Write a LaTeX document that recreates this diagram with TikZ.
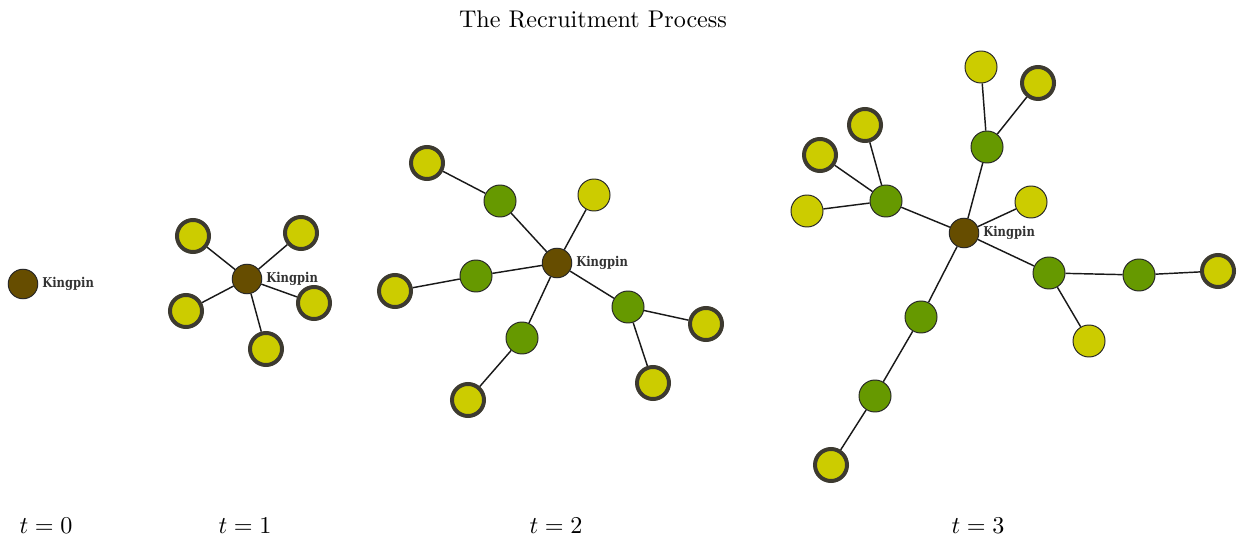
\documentclass[tikz,border=0pt]{standalone}
\usepackage{fontspec}
\usepackage{amsmath}
\newfontfamily\kingfont[FakeStretch=0.85]{DejaVu Serif}
\definecolor{kpbrown}{HTML}{664D00}
\definecolor{kpgreen}{HTML}{669900}
\definecolor{kpyellow}{HTML}{CCCC00}
\definecolor{kpring}{HTML}{3D3A30}

\begin{document}
\begin{tikzpicture}[
		x=0.01455cm, y=-0.01455cm,
		every node/.style={circle, draw=black!85, minimum size=0.466cm, inner sep=0pt, line width=0.4pt},
		every label/.append style={rectangle, draw=none, fill=none, minimum size=0pt, inner sep=1.5pt,
			font=\kingfont\bfseries\fontsize{5.6}{7}\selectfont, text=black!80},
		kingpin/.style={fill=kpbrown, minimum size=0.43cm, label=right:Kingpin},
		soldier/.style={fill=kpgreen},
		recruit/.style={fill=kpyellow, draw=kpring, line width=1.65pt},
		prospect/.style={fill=kpyellow},
		caption/.style={rectangle, draw=none, minimum size=0pt, inner sep=0pt},
		every edge/.style={draw=black!90, line width=0.6pt}
	]
  \useasboundingbox (0,0) rectangle (1237,535);
  \node (title) [caption] at (593, 19) {The Recruitment Process};
  % t = 0
  \node (k0) [kingpin] at (23, 284) {};
  \node (t0) [caption] at (46, 526) {$t = 0$};
  % t = 1
  \node (k1) [kingpin] at (247, 279) {};
  \node (r1a) [recruit] at (193, 236) {};
  \node (r1b) [recruit] at (301, 233) {};
  \node (r1c) [recruit] at (186, 311) {};
  \node (r1d) [recruit] at (314, 303) {};
  \node (r1e) [recruit] at (266, 349) {};
  \node (t1) [caption] at (245, 526) {$t = 1$};
  \draw (k1) edge (r1a) (k1) edge (r1b) (k1) edge (r1c) (k1) edge (r1d) (k1) edge (r1e);
  % t = 2
  \node (k2) [kingpin] at (557, 263) {};
  \node (s2a) [soldier] at (500, 201) {};
  \node (s2b) [soldier] at (476, 276) {};
  \node (s2c) [soldier] at (522, 338) {};
  \node (s2d) [soldier] at (628, 307) {};
  \node (p2a) [prospect] at (594, 195) {};
  \node (r2a) [recruit] at (427, 163) {};
  \node (r2b) [recruit] at (395, 291) {};
  \node (r2c) [recruit] at (468, 400) {};
  \node (r2d) [recruit] at (706, 324) {};
  \node (r2e) [recruit] at (653, 383) {};
  \node (t2) [caption] at (556, 526) {$t = 2$};
  \draw (k2) edge (s2a) (k2) edge (s2b) (k2) edge (s2c) (k2) edge (s2d) (k2) edge (p2a);
  \draw (s2a) edge (r2a) (s2b) edge (r2b) (s2c) edge (r2c) (s2d) edge (r2d) (s2d) edge (r2e);
  % t = 3
  \node (k3) [kingpin] at (964, 233) {};
  \node (s3a) [soldier] at (886, 201) {};
  \node (s3b) [soldier] at (987, 147) {};
  \node (s3c) [soldier] at (1049, 273) {};
  \node (s3d) [soldier] at (1139, 275) {};
  \node (s3e) [soldier] at (921, 317) {};
  \node (s3f) [soldier] at (875, 396) {};
  \node (p3a) [prospect] at (981, 67) {};
  \node (p3b) [prospect] at (1031, 202) {};
  \node (p3c) [prospect] at (807, 211) {};
  \node (p3d) [prospect] at (1089, 341) {};
  \node (r3a) [recruit] at (1038, 83) {};
  \node (r3b) [recruit] at (865, 125) {};
  \node (r3c) [recruit] at (820, 155) {};
  \node (r3d) [recruit] at (1218, 271) {};
  \node (r3e) [recruit] at (831, 465) {};
  \node (t3) [caption] at (978, 526) {$t = 3$};
  \draw (k3) edge (s3a) (k3) edge (s3b) (k3) edge (p3b) (k3) edge (s3c) (k3) edge (s3e);
  \draw (s3e) edge (s3f) (s3f) edge (r3e);
  \draw (s3a) edge (r3b) (s3a) edge (r3c) (s3a) edge (p3c);
  \draw (s3b) edge (p3a) (s3b) edge (r3a);
  \draw (s3c) edge (s3d) (s3d) edge (r3d) (s3c) edge (p3d);
\end{tikzpicture}
\end{document}
